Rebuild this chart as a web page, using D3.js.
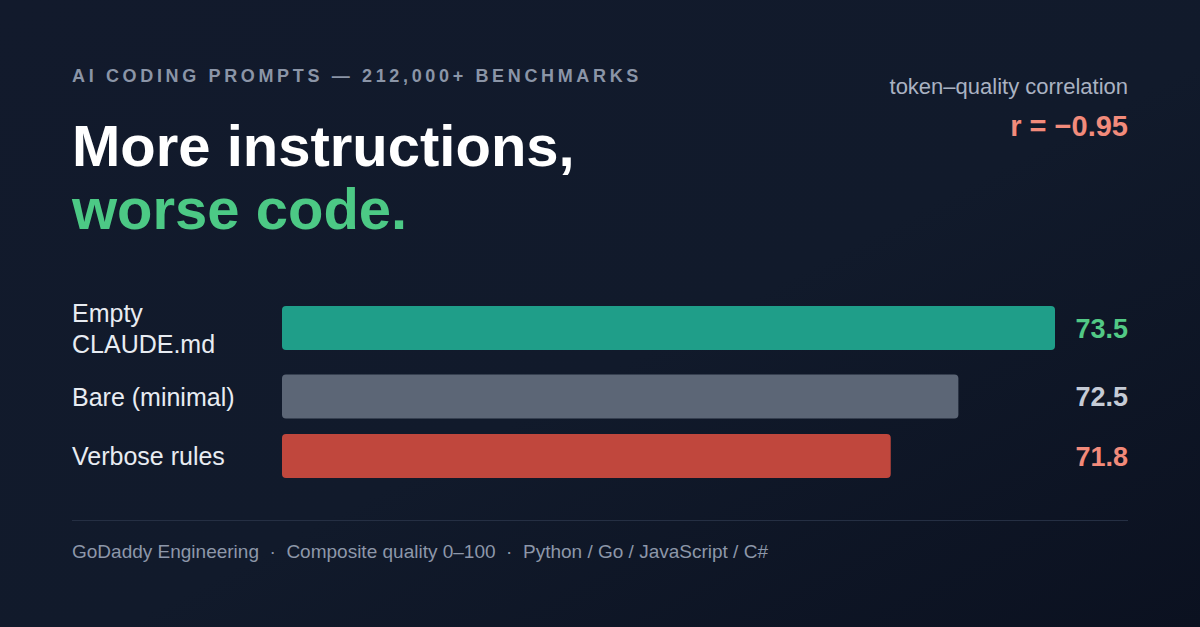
<!DOCTYPE html>
<html>
<head>
<meta charset="utf-8">
<script src="https://cdn.jsdelivr.net/npm/d3@7"></script>
<style>
  html, body { margin: 0; padding: 0; background: #111827; }
  svg { display: block; font-family: "Helvetica Neue", Helvetica, "Liberation Sans", Arial, sans-serif; }
</style>
</head>
<body>
<div id="chart"></div>
<script>
// data
var categories = ["Empty CLAUDE.md", "Bare (minimal)", "Verbose rules"];
var scores = [73.5, 72.5, 71.8];
var barColors = ["#1f9e89", "#5c6676", "#c0473d"];
var valueColors = ["#52c985", "#c5cbd6", "#f28a7a"];
var correlation = -0.95;
var footerParts = ["GoDaddy Engineering", "Composite quality 0\u2013100", "Python / Go / JavaScript / C#"];

var w = 1200,
    h = 627,
    left = 72,
    right = 1128,
    barLeft = 282,
    barMaxRight = 1055,
    barH = 44,
    rowGap = 15.5,
    lineH = 31,
    labelMax = 180,
    rowTop = 306;

var svg = d3.select('#chart')
  .append('svg')
  .attr('width', w)
  .attr('height', h);

// background gradient
var defs = svg.append('defs');
var grad = defs.append('linearGradient')
  .attr('id', 'bg')
  .attr('x1', '0%').attr('y1', '0%')
  .attr('x2', '100%').attr('y2', '100%');
grad.append('stop').attr('offset', '0%').attr('stop-color', '#121a2c');
grad.append('stop').attr('offset', '55%').attr('stop-color', '#111a2b');
grad.append('stop').attr('offset', '100%').attr('stop-color', '#0b1120');

svg.append('rect')
  .attr('width', w)
  .attr('height', h)
  .attr('fill', 'url(#bg)');

// header
svg.append('text')
  .attr('x', left)
  .attr('y', 82)
  .attr('fill', '#8b95a7')
  .attr('font-size', '18px')
  .attr('font-weight', 700)
  .attr('letter-spacing', '3.65px')
  .text('AI CODING PROMPTS \u2014 212,000+ BENCHMARKS');

svg.append('text')
  .attr('x', left)
  .attr('y', 166)
  .attr('fill', '#ffffff')
  .attr('font-size', '58px')
  .attr('font-weight', 700)
  .text('More instructions,');

svg.append('text')
  .attr('x', left)
  .attr('y', 229)
  .attr('fill', '#4cc985')
  .attr('font-size', '58px')
  .attr('font-weight', 700)
  .text('worse code.');

svg.append('text')
  .attr('x', right)
  .attr('y', 94)
  .attr('text-anchor', 'end')
  .attr('fill', '#aab2c2')
  .attr('font-size', '22px')
  .text('token\u2013quality correlation');

svg.append('text')
  .attr('x', right)
  .attr('y', 136)
  .attr('text-anchor', 'end')
  .attr('fill', '#f28b7b')
  .attr('font-size', '29px')
  .attr('font-weight', 700)
  .text('r = \u2212' + Math.abs(correlation).toFixed(2));

// bar scale
var x = d3.scaleLinear()
  .domain([65.5, d3.max(scores)])
  .range([barLeft, barMaxRight]);

// rows: wrap labels, then stack rows by height
var rows = svg.selectAll('g.row')
  .data(categories)
  .enter()
  .append('g')
  .attr('class', 'row');

var labels = rows.append('text')
  .attr('x', left)
  .attr('fill', '#e8ecf2')
  .attr('font-size', '25px');

labels.each(function(d){
  var t = d3.select(this),
      words = d.split(' '),
      line = [],
      lines = [];
  var probe = t.append('tspan');
  words.forEach(function(word){
    line.push(word);
    probe.text(line.join(' '));
    if (probe.node().getComputedTextLength() > labelMax && line.length > 1) {
      line.pop();
      lines.push(line.join(' '));
      line = [word];
    }
  });
  lines.push(line.join(' '));
  probe.remove();
  this.__lines = lines;
});

var yPos = 0;
var centers = [];
labels.each(function(d, i){
  var rowH = Math.max(barH, this.__lines.length * lineH);
  centers.push(rowTop + yPos + rowH / 2);
  yPos += rowH + rowGap;
});
// first bar starts at rowTop
var shift = rowTop - (centers[0] - barH / 2);
centers = centers.map(function(c){ return c + shift; });

labels.each(function(d, i){
  var t = d3.select(this),
      lines = this.__lines,
      first = centers[i] + 9 - (lines.length - 1) * lineH / 2;
  t.selectAll('tspan')
    .data(lines)
    .enter()
    .append('tspan')
    .attr('x', left)
    .attr('y', function(l, j){ return first + j * lineH; })
    .text(function(l){ return l; });
});

rows.append('rect')
  .attr('x', barLeft)
  .attr('y', function(d, i){ return centers[i] - barH / 2; })
  .attr('width', function(d, i){ return x(scores[i]) - barLeft; })
  .attr('height', barH)
  .attr('rx', 4)
  .attr('fill', function(d, i){ return barColors[i]; });

rows.append('text')
  .attr('x', right)
  .attr('y', function(d, i){ return centers[i] + 9.5; })
  .attr('text-anchor', 'end')
  .attr('fill', function(d, i){ return valueColors[i]; })
  .attr('font-size', '27px')
  .attr('font-weight', 700)
  .text(function(d, i){ return scores[i].toFixed(1); });

// divider + footer
svg.append('line')
  .attr('x1', left)
  .attr('x2', right)
  .attr('y1', 520.5)
  .attr('y2', 520.5)
  .attr('stroke', '#252f43')
  .attr('stroke-width', 1);

svg.append('text')
  .attr('x', left)
  .attr('y', 558)
  .attr('fill', '#8d97a9')
  .attr('font-size', '19px')
  .style('white-space', 'pre')
  .text(footerParts.join('  \u00b7  '));
</script>
</body>
</html>
